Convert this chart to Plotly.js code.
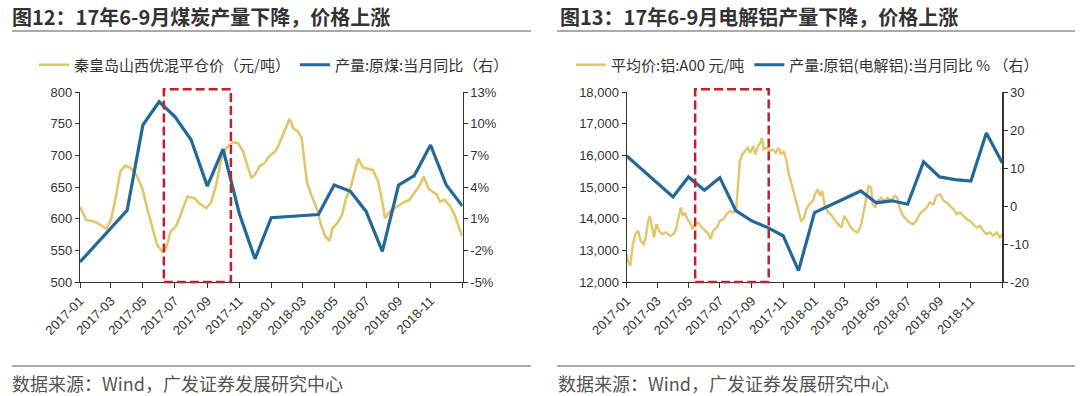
<!DOCTYPE html>
<html>
<head>
<meta charset="utf-8">
<script src="https://cdn.plot.ly/plotly-3.0.1.min.js"></script>
<style>
html,body{margin:0;padding:0;background:#fff;}
#chart{width:1080px;height:396px;}
</style>
</head>
<body>
<div id="chart"></div>
<script>
// ---------- Figure 12: coal ----------
const coalPriceDates = ['2017-01-01','2017-01-13','2017-01-26','2017-02-04','2017-02-20','2017-03-01','2017-03-10','2017-03-19','2017-03-28','2017-04-08','2017-04-19','2017-04-30','2017-05-09','2017-05-19','2017-05-28','2017-06-07','2017-06-14','2017-06-23','2017-07-03','2017-07-12','2017-07-25','2017-08-07','2017-08-16','2017-08-30','2017-09-08','2017-09-18','2017-09-27','2017-10-07','2017-10-19','2017-10-29','2017-11-08','2017-11-18','2017-11-24','2017-11-30','2017-12-10','2017-12-19','2017-12-28','2018-01-05','2018-01-11','2018-01-18','2018-01-27','2018-02-05','2018-02-12','2018-02-21','2018-02-28','2018-03-04','2018-03-10','2018-03-18','2018-03-24','2018-03-31','2018-04-06','2018-04-14','2018-04-22','2018-04-28','2018-05-07','2018-05-16','2018-05-24','2018-06-02','2018-06-16','2018-06-25','2018-07-04','2018-07-14','2018-07-24','2018-08-01','2018-08-06','2018-08-16','2018-08-25','2018-09-04','2018-09-13','2018-09-22','2018-10-02','2018-10-12','2018-10-19','2018-10-28','2018-11-04','2018-11-13','2018-11-19','2018-11-28','2018-12-09','2018-12-18','2018-12-28','2019-01-01'];
const coalPrice = [619,598,596,593,584,598,633,675,684,680,669,648,617,585,559,548,553,580,588,606,635,633,625,617,625,654,693,712,721,720,707,680,665,669,683,688,699,704,709,722,741,758,743,738,728,696,659,638,627,611,590,572,565,585,593,606,633,651,695,681,679,677,659,627,601,612,617,622,627,630,643,654,667,648,643,638,627,630,619,604,580,572];

const coalProdMonths = ['2017-01','2017-04','2017-05','2017-06','2017-07','2017-08','2017-09','2017-10','2017-11','2017-12','2018-01','2018-04','2018-05','2018-06','2018-07','2018-08','2018-09','2018-10','2018-11','2018-12','2019-01'];
const coalProdYoY = [-3.1,1.8,9.9,12.1,10.7,8.5,4.1,7.6,1.5,-2.8,1.1,1.4,4.2,3.6,1.7,-2.1,4.2,5.1,8.0,4.2,2.2];

// ---------- Figure 13: aluminium ----------
const alPriceDates = ['2017-01-01','2017-01-03','2017-01-08','2017-01-13','2017-01-18','2017-01-23','2017-01-28','2017-02-03','2017-02-07','2017-02-11','2017-02-15','2017-02-19','2017-02-23','2017-02-28','2017-03-05','2017-03-11','2017-03-19','2017-03-26','2017-04-02','2017-04-07','2017-04-11','2017-04-16','2017-04-20','2017-04-24','2017-04-29','2017-05-04','2017-05-09','2017-05-14','2017-05-20','2017-05-27','2017-06-03','2017-06-09','2017-06-13','2017-06-18','2017-06-25','2017-07-01','2017-07-08','2017-07-14','2017-07-21','2017-07-28','2017-08-02','2017-08-06','2017-08-09','2017-08-14','2017-08-19','2017-08-24','2017-08-29','2017-09-04','2017-09-08','2017-09-13','2017-09-18','2017-09-21','2017-09-24','2017-09-29','2017-10-06','2017-10-12','2017-10-18','2017-10-23','2017-10-28','2017-11-02','2017-11-07','2017-11-12','2017-11-16','2017-11-21','2017-11-26','2017-12-01','2017-12-06','2017-12-11','2017-12-16','2017-12-22','2017-12-29','2018-01-02','2018-01-07','2018-01-12','2018-01-16','2018-01-21','2018-01-28','2018-02-04','2018-02-10','2018-02-16','2018-02-22','2018-02-28','2018-03-06','2018-03-13','2018-03-19','2018-03-26','2018-04-02','2018-04-07','2018-04-11','2018-04-16','2018-04-21','2018-04-24','2018-04-29','2018-05-04','2018-05-10','2018-05-17','2018-05-23','2018-05-30','2018-06-06','2018-06-11','2018-06-15','2018-06-22','2018-06-28','2018-07-05','2018-07-11','2018-07-18','2018-07-24','2018-07-31','2018-08-07','2018-08-13','2018-08-20','2018-08-26','2018-09-02','2018-09-09','2018-09-15','2018-09-21','2018-09-28','2018-10-04','2018-10-11','2018-10-17','2018-10-24','2018-10-30','2018-11-06','2018-11-12','2018-11-19','2018-11-25','2018-12-01','2018-12-08','2018-12-14','2018-12-21','2018-12-27','2019-01-01'];
const alPrice = [12884,12674,12516,13199,13514,13619,13304,13199,13409,13882,14092,13724,13409,13829,13619,13514,13567,13462,13514,13672,13987,14354,14092,14197,13987,13882,13672,13829,13882,13724,13619,13514,13357,13619,13724,13934,13987,14144,14249,14197,14354,15090,15825,16035,16140,16245,16088,16298,16035,16298,16403,16560,16192,16245,16140,16192,16088,16245,16035,16140,15877,15405,15195,14880,14565,14249,13934,13987,14302,14459,14565,14775,14932,14722,14880,14407,14197,14092,13934,13829,13724,14092,13934,13724,13619,13567,13829,14249,14565,15037,14985,14459,14354,14565,14670,14565,14670,14565,14722,14670,14354,14092,13987,13882,13829,13934,14144,14249,14354,14512,14459,14722,14775,14565,14512,14407,14302,14144,14197,14092,13987,13934,13829,13724,13777,13619,13514,13567,13462,13567,13409,13514];

const alProdMonths = ['2017-01','2017-04','2017-05','2017-06','2017-07','2017-08','2017-09','2017-10','2017-11','2017-12','2018-01','2018-04','2018-05','2018-06','2018-07','2018-08','2018-09','2018-10','2018-11','2018-12','2019-01'];
const alProdYoY = [13.2,2.4,7.7,4.2,7.5,-1.2,-3.9,-5.6,-7.8,-17.0,-1.7,4.0,0.9,1.4,0.5,11.7,7.7,7.0,6.6,19.3,11.4];

// ---------- axis tick labels ----------
const xTickVals = ['2017-01-01','2017-03-01','2017-05-01','2017-07-01','2017-09-01','2017-11-01','2018-01-01','2018-03-01','2018-05-01','2018-07-01','2018-09-01','2018-11-01','2019-01-01'];
const xTickText = ['2017-01','2017-03','2017-05','2017-07','2017-09','2017-11','2018-01','2018-03','2018-05','2018-07','2018-09','2018-11',''];
const coalYoYTickVals = [-5,-2,1,4,7,10,13];
const coalYoYTickText = ['-5%','-2%','1%','4%','7%','10%','13%'];
const alYoYTickVals = [-20,-10,0,10,20,30];
const alYoYTickText = ['-20','-10','0','10','20','30'];

const names = {
  coalPrice: '秦皇岛山西优混平仓价（元/吨）',
  coalProd: '产量:原煤:当月同比（右）',
  alPrice: '平均价:铝:A00 元/吨',
  alProd: '产量:原铝(电解铝):当月同比 % （右）'
};
const titles = ['图12：17年6-9月煤炭产量下降，价格上涨','图13：17年6-9月电解铝产量下降，价格上涨'];
const source = '数据来源：Wind，广发证券发展研究中心';

const GOLD = '#E4C66A', BLUE = '#22689A', RED = '#C0202A', INK = '#333333';
const W = 1080, H = 396;
const px = v => v / W, py = v => 1 - v / H;

const traces = [
  {x: coalPriceDates, y: coalPrice, name: names.coalPrice, type: 'scatter', mode: 'lines',
   line: {color: GOLD, width: 2.6}, xaxis: 'x', yaxis: 'y', legend: 'legend'},
  {x: coalProdMonths, y: coalProdYoY, name: names.coalProd, type: 'scatter', mode: 'lines',
   line: {color: BLUE, width: 3.2}, xaxis: 'x', yaxis: 'y2', legend: 'legend'},
  {x: alPriceDates, y: alPrice, name: names.alPrice, type: 'scatter', mode: 'lines',
   line: {color: GOLD, width: 2.4}, xaxis: 'x2', yaxis: 'y3', legend: 'legend2'},
  {x: alProdMonths, y: alProdYoY, name: names.alProd, type: 'scatter', mode: 'lines',
   line: {color: BLUE, width: 3.2}, xaxis: 'x2', yaxis: 'y4', legend: 'legend2'}
];

const tickFont = {family: 'Liberation Sans, Arial, sans-serif', size: 13, color: INK};
const xBase = {
  type: 'date', range: ['2017-01-01', '2019-01-01'], tickmode: 'array',
  tickvals: xTickVals, ticktext: xTickText, tickangle: -45,
  showline: true, linecolor: INK, linewidth: 1.2, ticks: 'outside', ticklen: 5, tickcolor: INK,
  showgrid: false, zeroline: false, tickfont: {family: 'Liberation Sans, Arial, sans-serif', size: 13, color: INK}
};
const yBase = {
  showline: true, linecolor: INK, linewidth: 1.2, ticks: 'outside', ticklen: 4, tickcolor: INK,
  showgrid: false, zeroline: false, tickfont: tickFont, domain: [1 - 282 / H, 1 - 92.3 / H]
};
const legFont = {family: 'Noto Sans CJK SC, sans-serif', size: 15, color: INK};

const dashRect = (xref, x0, x1) => ({type: 'rect', xref: xref, yref: 'paper', x0: x0, x1: x1,
  y0: py(282), y1: py(89.3), line: {color: RED, width: 2.5, dash: '9px,4px'}, layer: 'above'});
const rule = (x0, x1, y) => ({type: 'line', xref: 'paper', yref: 'paper', x0: px(x0), x1: px(x1),
  y0: py(y), y1: py(y), line: {color: '#555', width: 1}});

const layout = {
  width: W, height: H, autosize: false,
  margin: {l: 0, r: 0, t: 0, b: 0},
  paper_bgcolor: '#fff', plot_bgcolor: '#fff',
  xaxis: Object.assign({}, xBase, {domain: [px(80), px(462.5)], anchor: 'y'}),
  yaxis: Object.assign({}, yBase, {range: [500, 800], dtick: 50, tick0: 500, anchor: 'x'}),
  yaxis2: Object.assign({}, yBase, {range: [-5, 13], tickmode: 'array', tickvals: coalYoYTickVals,
    ticktext: coalYoYTickText, overlaying: 'y', side: 'right', anchor: 'x'}),
  xaxis2: Object.assign({}, xBase, {domain: [px(626.7), px(1002.3)], anchor: 'y3'}),
  yaxis3: Object.assign({}, yBase, {range: [12000, 18000], dtick: 1000, tick0: 12000,
    tickformat: ',d', anchor: 'x2'}),
  yaxis4: Object.assign({}, yBase, {range: [-20, 30], tickmode: 'array', tickvals: alYoYTickVals,
    ticktext: alYoYTickText, overlaying: 'y3', side: 'right', anchor: 'x2'}),
  legend: {orientation: 'h', x: px(34), xanchor: 'left', y: py(65), yanchor: 'middle',
    font: legFont, bgcolor: 'rgba(0,0,0,0)', itemwidth: 30, tracegroupgap: 0},
  legend2: {orientation: 'h', x: px(571), xanchor: 'left', y: py(65), yanchor: 'middle',
    font: legFont, bgcolor: 'rgba(0,0,0,0)', itemwidth: 30, tracegroupgap: 0},
  shapes: [
    dashRect('x', '2017-06-10', '2017-10-16'),
    dashRect('x2', '2017-05-14', '2017-10-04'),
    rule(12, 531, 31), rule(557, 1075, 31),
    rule(12, 531, 366), rule(557, 1075, 366)
  ],
  annotations: [
    {text: '<b>' + titles[0] + '</b>', xref: 'paper', yref: 'paper', x: px(10), y: py(16),
     xanchor: 'left', yanchor: 'middle', showarrow: false,
     font: {family: 'Noto Sans CJK SC, sans-serif', size: 20, color: INK}},
    {text: '<b>' + titles[1] + '</b>', xref: 'paper', yref: 'paper', x: px(558), y: py(16),
     xanchor: 'left', yanchor: 'middle', showarrow: false,
     font: {family: 'Noto Sans CJK SC, sans-serif', size: 20, color: INK}},
    {text: source, xref: 'paper', yref: 'paper', x: px(10), y: py(383),
     xanchor: 'left', yanchor: 'middle', showarrow: false,
     font: {family: 'Noto Sans CJK SC, sans-serif', size: 18, color: '#555'}},
    {text: source, xref: 'paper', yref: 'paper', x: px(556), y: py(383),
     xanchor: 'left', yanchor: 'middle', showarrow: false,
     font: {family: 'Noto Sans CJK SC, sans-serif', size: 18, color: '#555'}}
  ]
};

Plotly.newPlot('chart', traces, layout, {displayModeBar: false, staticPlot: true});
</script>
</body>
</html>
